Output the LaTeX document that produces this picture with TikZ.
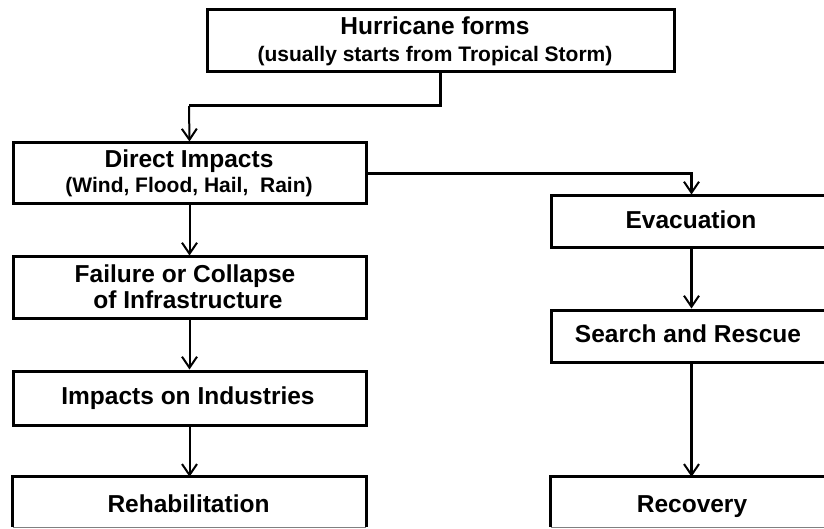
\documentclass[tikz,border=0pt]{standalone}
\usepackage{fontspec}
\setmainfont{Liberation Sans}
\usetikzlibrary{arrows.meta}
\begin{document}
\begin{tikzpicture}[x=1pt,y=-1pt,
  box/.style={draw=black, line width=3pt, inner sep=0pt, rectangle},
  openbox/.style={draw=none, inner sep=0pt, rectangle},
  lbl/.style={anchor=base, inner sep=0pt, font=\bfseries\fontsize{24.5}{26}\selectfont},
  sub/.style={anchor=base, inner sep=0pt, font=\bfseries\fontsize{21}{24}\selectfont},
  tip/.style={-{Straight Barb[length=11pt,width=15pt,line width=2pt]}},
  thinarr/.style={tip, line width=2pt},
  thickarr/.style={tip, line width=3pt}
]
\clip (0,0) rectangle (824,529);
\fill[white] (0,0) rectangle (824,529);
% boxes
\node[box, minimum width=467pt, minimum height=62pt] (top) at (440.5,41) {};
\node[box, minimum width=353pt, minimum height=61pt] (di) at (189.5,173.5) {};
\node[box, minimum width=353pt, minimum height=61pt] (fail) at (189.5,287.5) {};
\node[box, minimum width=353pt, minimum height=54pt] (imp) at (189.5,398) {};
\node[openbox, minimum width=353pt, minimum height=50pt] (rehab) at (189.5,502) {};
\node[box, minimum width=281pt, minimum height=52pt] (evac) at (691.5,222) {};
\node[box, minimum width=281pt, minimum height=52pt] (search) at (691.5,336) {};
\node[openbox, minimum width=281pt, minimum height=50pt] (recov) at (691.5,502) {};
\draw[line width=3pt] (rehab.south west) -- (rehab.north west) -- (rehab.north east) -- (rehab.south east);
\draw[gray, line width=0.8pt] (rehab.south west) -- (rehab.south east);
\draw[line width=3pt] (recov.south west) -- (recov.north west) -- (recov.north east) -- (recov.south east);
\draw[gray, line width=0.8pt] (recov.south west) -- (recov.south east);
% texts
\node[lbl] (t1) at (435,35) {Hurricane forms};
\node[sub] (t2) at (435,62) {(usually starts from Tropical Storm)};
\node[lbl] (d1) at (189,168) {Direct Impacts};
\node[sub] (d2) at (189,193) {(Wind, Flood, Hail,\ \ Rain)};
\node[lbl] (f1) at (185,282) {Failure or Collapse};
\node[lbl] (f2) at (188,308) {of Infrastructure};
\node[lbl] (i1) at (188,404) {Impacts on Industries};
\node[lbl] (r1) at (188.5,512) {Rehabilitation};
\node[lbl] (e1) at (691,229) {Evacuation};
\node[lbl] (s1) at (688,342) {Search and Rescue};
\node[lbl] (c1) at (692,512) {Recovery};
% connectors
\coordinate (j1) at (189,106);
\draw[line width=3pt] (top.south) |- (j1);
\draw[thinarr] (j1) -- (di.north);
\draw[thickarr, line width=2.5pt] (di.east) -| (evac.north);
\draw[thinarr] (di.south) -- (fail.north);
\draw[thinarr] (fail.south) -- (imp.north);
\draw[thinarr] (imp.south) -- (rehab.north);
\draw[thickarr] (evac.south) -- (search.north);
\draw[thickarr] (search.south) -- (recov.north);
\end{tikzpicture}
\end{document}
